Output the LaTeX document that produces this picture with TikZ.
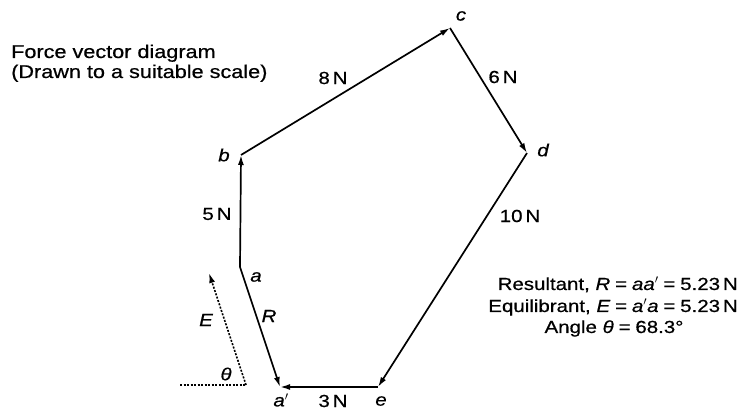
\documentclass[tikz,border=0pt]{standalone}
\usepackage{fontspec}
\setmainfont{Liberation Sans}[FakeStretch=1.17,FakeBold=0.6]
\usetikzlibrary{arrows.meta}
\begin{document}
\begin{tikzpicture}[x=1pt,y=-1pt,
  vec/.style={line width=1.7pt,-{Latex[length=10pt,width=6pt]}},
  dotln/.style={line width=1.6pt,dash pattern=on 2pt off 1.5pt},
  lbl/.style={font=\fontsize{17.5}{20}\selectfont\itshape,inner sep=0pt},
  mag/.style={font=\fontsize{17.5}{20}\selectfont,inner sep=0pt},
  ttl/.style={font=\fontsize{18.5}{20}\selectfont,inner sep=0pt}]
\useasboundingbox (0,0) rectangle (744,411);
% polygon points
\coordinate (a) at (240,267);
\coordinate (b) at (241,155);
\coordinate (c) at (450,28);
\coordinate (d) at (527,153);
\coordinate (e) at (378,387);
\coordinate (a2) at (280,387);
\coordinate (o) at (246,385);
\coordinate (ot) at (209,273);
\coordinate (h) at (180,385);
% vectors
\draw[vec] (a) -- (b);
\draw[vec] (b) -- (c);
\draw[vec] (c) -- (d);
\draw[vec] (d) -- (e);
\draw[vec] (e) -- (a2);
\draw[vec] (a) -- (a2);
\draw[dotln] (h) -- (o);
\draw[dotln,-{Latex[length=10pt,width=6pt]}] (o) -- (ot);
% point labels
\node[lbl] (la) at (256,277) {a};
\node[lbl] (lb) at (224,155) {b};
\node[lbl] (lc) at (461,16) {c};
\node[lbl] (ld) at (543,150) {d};
\node[lbl] (le) at (381,401) {e};
\node[lbl] (la2) at (281,400) {a$'$};
\node[lbl] (lE) at (206,320) {E};
\node[lbl] (lR) at (269,316) {R};
\node[lbl] (lth) at (226,374) {θ};
% magnitudes
\node[mag] (m5) at (217,214) {5\,N};
\node[mag] (m8) at (333,78) {8\,N};
\node[mag] (m6) at (503,77) {6\,N};
\node[mag] (m10) at (520,216) {10\,N};
\node[mag] (m3) at (333,401) {3\,N};
% texts
\node[ttl,anchor=base west] (t1) at (11,58) {Force vector diagram};
\node[ttl,anchor=base west] (t2) at (11,78) {(Drawn to a suitable scale)};
\node[mag,anchor=base east] (r1) at (738,290) {Resultant, \textit{R}\;=\;\textit{aa$'$}\;=\;5.23\,N};
\node[mag,anchor=base east] (r2) at (738,312) {Equilibrant, \textit{E}\;=\;\textit{a$'$a}\;=\;5.23\,N};
\node[mag,anchor=base] (r3) at (614,333) {Angle \textit{θ}\;=\;68.3°};
\end{tikzpicture}
\end{document}
